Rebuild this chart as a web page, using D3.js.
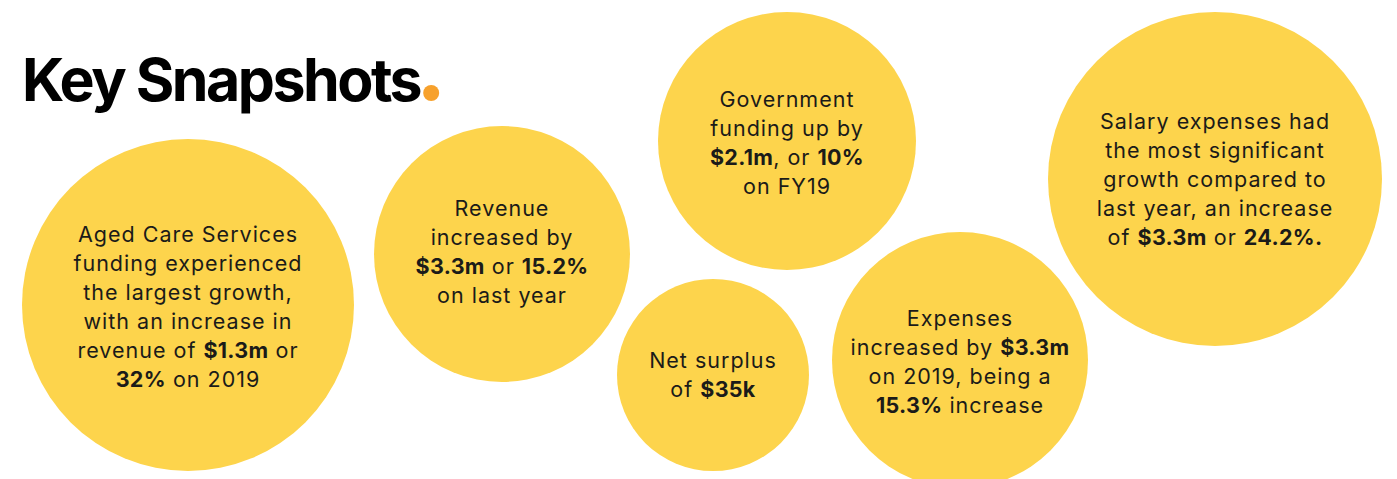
<!DOCTYPE html>
<html><head><meta charset="utf-8">
<script src="https://cdn.jsdelivr.net/npm/d3@7"></script>
<style>
html,body{margin:0;padding:0;background:#fff;}
svg{display:block;}
</style></head>
<body>
<svg id="chart" width="1397" height="479"></svg>
<script>
// ---- data ----
const title = "Key Snapshots";
const snapshotIds = ["aged", "revenue", "surplus", "government", "expenses", "salary"];
const agedLines = ["Aged Care Services", "funding experienced", "the largest growth,", "with an increase in", "revenue of **$1.3m** or", "**32%** on 2019"];
const revenueLines = ["Revenue", "increased by", "**$3.3m** or **15.2%**", "on last year"];
const surplusLines = ["Net surplus", "of **$35k**"];
const governmentLines = ["Government", "funding up by", "**$2.1m**, or **10%**", "on FY19"];
const expensesLines = ["Expenses", "increased by **$3.3m**", "on 2019, being a", "**15.3%** increase"];
const salaryLines = ["Salary expenses had", "the most significant", "growth compared to", "last year, an increase", "of **$3.3m** or **24.2%.**"];
const snapshotLines = [agedLines, revenueLines, surplusLines, governmentLines, expensesLines, salaryLines];

// ---- layout (not data) ----
const layout = {
  aged:       {cx: 188,  cy: 305, r: 166, firstBaseline: 242},
  revenue:    {cx: 502,  cy: 254, r: 128, firstBaseline: 216},
  surplus:    {cx: 713,  cy: 375, r: 96,  firstBaseline: 368},
  government: {cx: 787,  cy: 141, r: 129, firstBaseline: 107},
  expenses:   {cx: 960,  cy: 360, r: 128, firstBaseline: 326},
  salary:     {cx: 1215, cy: 179, r: 167, firstBaseline: 129}
};
const lineHeight = 29;
const yellow = "#FDD44C";
const orange = "#F7A12C";
const ink = "#1b1b19";

const svg = d3.select("#chart");

// title
const titleText = svg.append("text")
  .attr("x", 22).attr("y", 101)
  .attr("font-family", "Inter, 'DejaVu Sans', sans-serif")
  .attr("font-weight", 700)
  .attr("font-size", 59)
  .attr("letter-spacing", -2.5)
  .attr("fill", "#000")
  .text(title);
const tw = titleText.node().getComputedTextLength();
svg.append("circle").attr("cx", 22 + tw + 11).attr("cy", 93).attr("r", 8).attr("fill", orange);

const data = snapshotIds.map((id, i) => ({id, lines: snapshotLines[i], ...layout[id]}));

const g = svg.selectAll("g.snap").data(data).join("g").attr("class", "snap");
g.append("circle")
  .attr("cx", d => d.cx).attr("cy", d => d.cy).attr("r", d => d.r)
  .attr("fill", yellow);

const txt = g.append("text")
  .attr("text-anchor", "middle")
  .attr("font-family", "Inter, 'DejaVu Sans', sans-serif")
  .attr("font-size", 21.5)
  .attr("letter-spacing", 1.0)
  .attr("fill", ink);

txt.each(function(d) {
  const el = d3.select(this);
  d.lines.forEach((line, li) => {
    const lt = el.append("tspan").attr("x", d.cx).attr("y", d.firstBaseline + li * lineHeight);
    line.split(/(\*\*[^*]+\*\*)/).filter(s => s.length).forEach(seg => {
      const bold = seg.startsWith("**");
      lt.append("tspan")
        .attr("font-weight", bold ? 700 : 400)
        .attr("letter-spacing", bold ? 0.3 : null)
        .text(bold ? seg.slice(2, -2) : seg);
    });
  });
});
</script>
</body></html>
